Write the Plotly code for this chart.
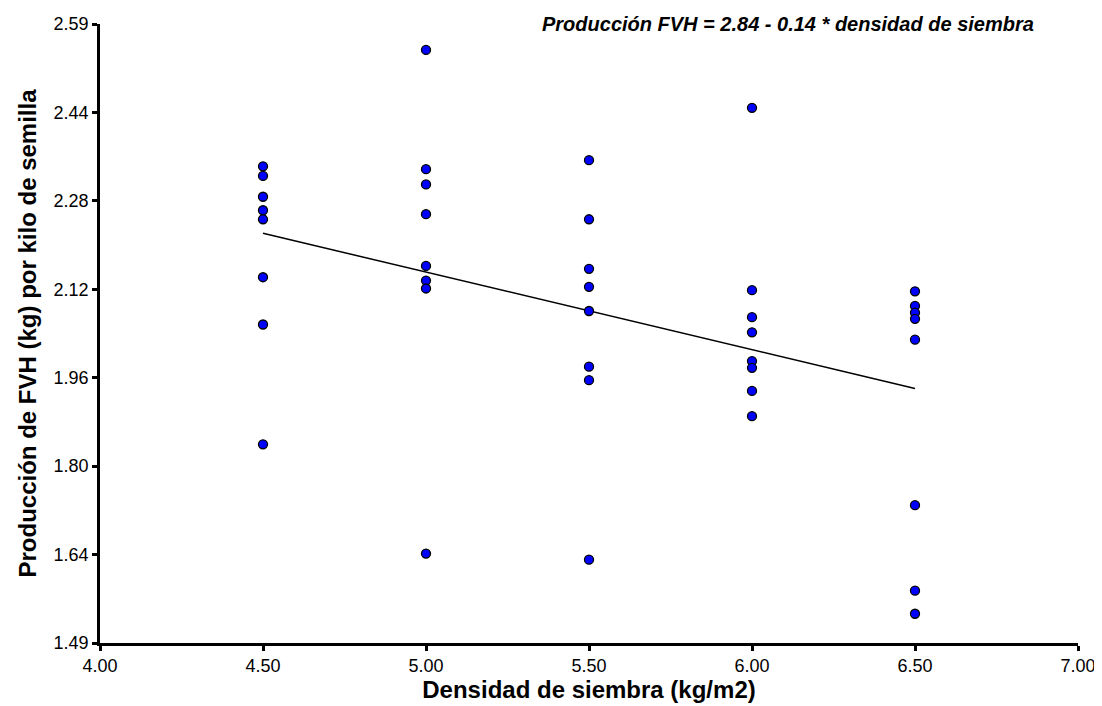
import numpy as np
import plotly.graph_objects as go

# Data
density_45 = [2.337, 2.320, 2.283, 2.259, 2.243, 2.140, 2.056, 1.843]
density_50 = [2.544, 2.332, 2.305, 2.252, 2.160, 2.134, 2.120, 1.649]
density_55 = [2.348, 2.243, 2.155, 2.123, 2.080, 1.981, 1.957, 1.638]
density_60 = [2.441, 2.117, 2.069, 2.042, 1.991, 1.979, 1.938, 1.893]
density_65 = [2.115, 2.089, 2.077, 2.066, 2.029, 1.735, 1.583, 1.542]
densities = [4.5, 5.0, 5.5, 6.0, 6.5]
groups = [density_45, density_50, density_55, density_60, density_65]

x_tick_vals = [4.0, 4.5, 5.0, 5.5, 6.0, 6.5, 7.0]
x_tick_text = ["4.00", "4.50", "5.00", "5.50", "6.00", "6.50", "7.00"]
y_min, y_max = 1.49, 2.59
y_tick_text = ["1.49", "1.64", "1.80", "1.96", "2.12", "2.28", "2.44", "2.59"]
y_tick_vals = list(np.linspace(y_min, y_max, len(y_tick_text)))

xs = [d for d, g in zip(densities, groups) for _ in g]
ys = [v for g in groups for v in g]

slope, intercept = np.polyfit(xs, ys, 1)
line_x = [min(densities), max(densities)]
line_y = [intercept + slope * v for v in line_x]

font_family = "Liberation Sans, Arial, sans-serif"

fig = go.Figure()
fig.add_trace(go.Scatter(
    x=line_x, y=line_y, mode="lines",
    line=dict(color="black", width=1.5), showlegend=False, hoverinfo="skip"))
fig.add_trace(go.Scatter(
    x=xs, y=ys, mode="markers",
    marker=dict(size=9, color="#0000FF", line=dict(color="black", width=1.3)),
    showlegend=False))

fig.add_annotation(
    text="<b><i>Producción FVH = 2.84 - 0.14 * densidad de siembra</i></b>",
    xref="paper", yref="paper", x=0.957, y=1.0, xanchor="right", yanchor="middle",
    showarrow=False, font=dict(family=font_family, size=20, color="black"))

fig.update_layout(
    width=1102, height=706,
    margin=dict(l=92, r=32, t=16, b=71),
    plot_bgcolor="white", paper_bgcolor="white",
    font=dict(family=font_family, size=18, color="black"),
    xaxis=dict(
        range=[4.0, 7.0], tickvals=x_tick_vals, ticktext=x_tick_text,
        showgrid=False, zeroline=False, showline=True, linecolor="black", linewidth=2.5,
        ticks="outside", ticklen=5, tickwidth=2.5, tickcolor="black",
        tickfont=dict(size=18), automargin=False,
        title=dict(text="<b>Densidad de siembra (kg/m2)</b>", font=dict(size=24), standoff=5)),
    yaxis=dict(
        range=[y_min, y_max], tickvals=y_tick_vals, ticktext=y_tick_text,
        showgrid=False, zeroline=False, showline=True, linecolor="black", linewidth=2.5,
        ticks="outside", ticklen=5, tickwidth=2.5, tickcolor="black",
        tickfont=dict(size=18), automargin=False,
        title=dict(text="<b>Producción de FVH (kg) por kilo de semilla</b>", font=dict(size=24), standoff=11)),
)

fig.write_html("out.html")
